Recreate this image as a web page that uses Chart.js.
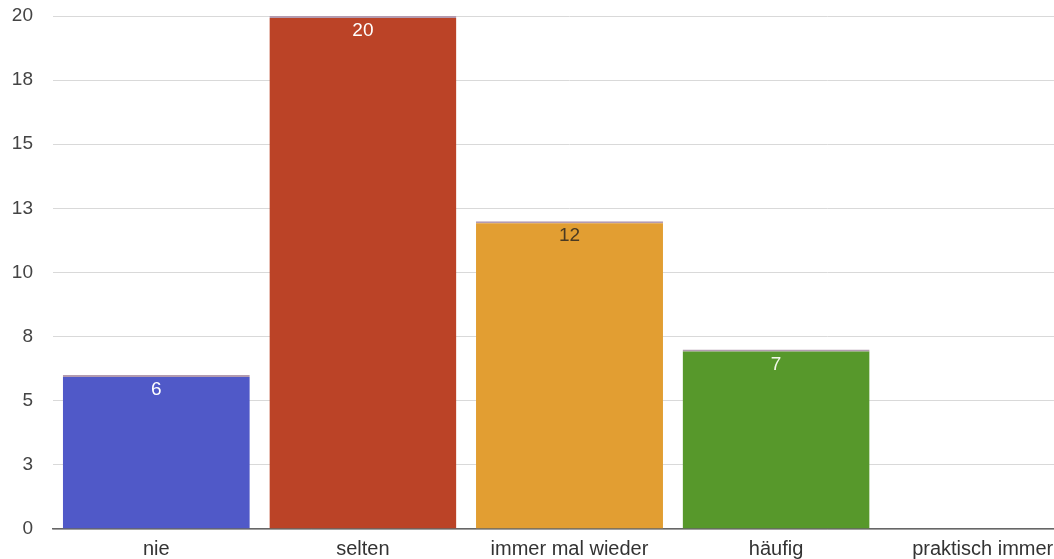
<!DOCTYPE html>
<html>
<head>
<meta charset="utf-8">
<script src="https://cdn.jsdelivr.net/npm/chart.js@4/dist/chart.umd.min.js"></script>
<style>
  html, body { margin: 0; padding: 0; background: #fff; overflow: hidden; }
  #wrap { width: 1090px; height: 559px; position: relative; }
</style>
</head>
<body>
<div id="wrap"><canvas id="chart"></canvas></div>
<script>
// --- Data ---
const categories = ['nie', 'selten', 'immer mal wieder', 'häufig', 'praktisch immer'];
const counts = [6, 20, 12, 7, 0];
const barColors = ['#5059c8', '#bb4327', '#e29e32', '#57982b', '#8a6fb0'];
const labelColors = ['#ffffff', '#ffffff', '#4a3a22', '#f2f7e8', '#ffffff'];

const FONT = '"Liberation Sans", Arial, sans-serif';

// simple value labels drawn just inside the top of each bar
const valueLabels = {
  id: 'valueLabels',
  afterDatasetsDraw(chart) {
    const ctx = chart.ctx;
    const meta = chart.getDatasetMeta(0);
    ctx.save();
    ctx.font = '19px ' + FONT;
    ctx.textAlign = 'center';
    ctx.textBaseline = 'middle';
    meta.data.forEach((bar, i) => {
      if (!counts[i]) return;
      ctx.fillStyle = labelColors[i];
      ctx.fillText(String(counts[i]), bar.x, bar.y + 15);
    });
    ctx.restore();
  }
};

new Chart(document.getElementById('chart').getContext('2d'), {
  type: 'bar',
  data: {
    labels: categories,
    datasets: [{
      data: counts,
      backgroundColor: barColors,
      borderColor: '#b39bb0',
      borderWidth: { top: 2, left: 0, right: 0, bottom: 0 },
      borderSkipped: 'bottom',
      barPercentage: 0.905,
      categoryPercentage: 1
    }]
  },
  options: {
    responsive: true,
    maintainAspectRatio: false,
    animation: false,
    layout: { padding: { top: 16, right: 4, left: 0, bottom: 0 } },
    plugins: {
      legend: { display: false },
      tooltip: { enabled: false }
    },
    scales: {
      x: {
        grid: { display: false, drawTicks: false },
        border: { display: true, color: '#666', width: 1.5 },
        ticks: {
          color: '#333',
          padding: 8,
          font: { size: 20, family: FONT },
          maxRotation: 0
        },
        afterFit(scale) { scale.height = 30; scale.paddingLeft = 0; scale.paddingRight = 0; }
      },
      y: {
        min: 0,
        max: 20,
        grid: { color: '#d9d9d9', drawTicks: false, lineWidth: 1 },
        border: { display: false },
        ticks: {
          stepSize: 2.5,
          color: '#444',
          padding: 20,
          font: { size: 19, family: FONT },
          callback: v => Math.round(v)
        },
        afterFit(scale) { scale.width = 53; scale.paddingTop = 0; scale.paddingBottom = 0; }
      }
    }
  },
  plugins: [valueLabels]
});
</script>
</body>
</html>
